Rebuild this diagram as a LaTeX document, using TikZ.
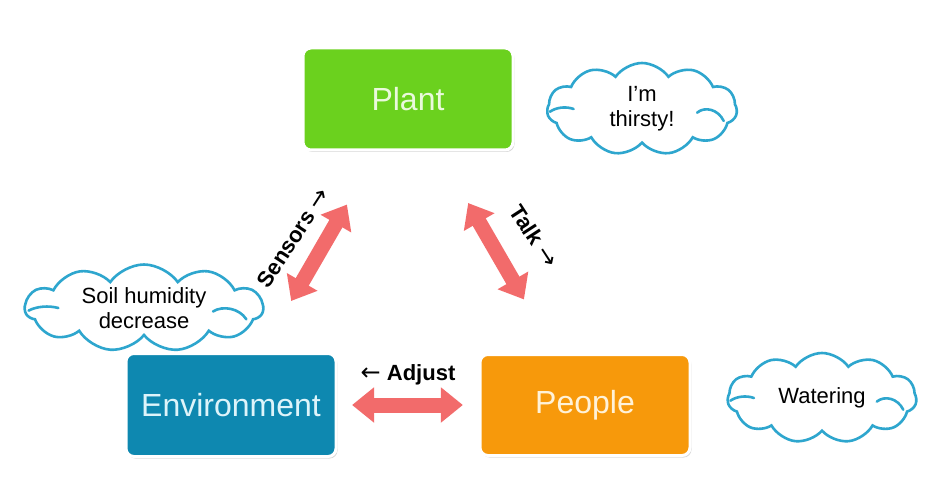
\documentclass[tikz,border=0pt]{standalone}
\usepackage{fontspec}
\setmainfont{Liberation Sans}
\newfontfamily\arrowfont{DejaVu Sans}
\usetikzlibrary{shapes.symbols,shadows,arrows.meta,calc}
\definecolor{plantc}{HTML}{6BD11E}
\definecolor{envc}{HTML}{0E88B0}
\definecolor{peoplec}{HTML}{F7990B}
\definecolor{arrc}{HTML}{F26B6B}
\definecolor{cloudc}{HTML}{2EA6CE}
\definecolor{planttxt}{HTML}{EAF9DC}
\definecolor{envtxt}{HTML}{DDF4FA}
\definecolor{peopletxt}{HTML}{FFF2D8}
\newcommand{\cloudcurls}[3]{%
  \begin{scope}[shift={(#1.center)}, x=#2pt, y=-#3pt, draw=cloudc, line width=2.6pt, line cap=round]
    \draw (-0.485,0.03) .. controls (-0.45,-0.02) and (-0.40,-0.03) .. (-0.36,0.0);
    \draw (0.29,0.04) .. controls (0.33,-0.03) and (0.40,0.0) .. (0.43,0.13);
  \end{scope}}
\begin{document}
\begin{tikzpicture}[x=1pt,y=-1pt,
  box/.style={rectangle, rounded corners=8pt, minimum width=210pt, minimum height=102pt,
    draw=white, line width=3pt, inner sep=0pt,
    drop shadow={shadow xshift=1.5pt, shadow yshift=-2pt, opacity=0.3},
    font=\fontsize{32}{36}\selectfont},
  thought/.style={cloud, cloud puffs=11, cloud puff arc=110, cloud ignores aspect,
    draw=cloudc, line width=2.6pt, fill=white, inner sep=0pt},
  cloudtext/.style={align=center, font=\fontsize{22}{25}\selectfont},
  link/.style={draw=arrc, line width=15pt,
    {Triangle[width=34pt,length=22pt]}-{Triangle[width=34pt,length=22pt]}},
  lab/.style={font=\bfseries\fontsize{22}{25}\selectfont, inner sep=0pt}
]
\useasboundingbox[fill=white] (0,0) rectangle (949,478);

\node[box, fill=plantc, text=planttxt] (plant) at (408,99) {Plant};
\node[box, fill=envc, text=envtxt, minimum height=103pt] (env) at (231,405) {Environment};
\node[box, fill=peoplec, text=peopletxt, minimum height=101pt] (people) at (585,405) {People};

\node[thought, minimum width=190pt, minimum height=92pt] (thirsty) at (642,109) {};
\cloudcurls{thirsty}{190}{92}
\node[cloudtext] (thirstytxt) at (thirsty.center) {I’m\\thirsty!};
\node[thought, minimum width=238pt, minimum height=87pt] (soil) at (144,308) {};
\cloudcurls{soil}{238}{87}
\node[cloudtext] (soiltxt) at (soil.center) {Soil humidity\\decrease};
\node[thought, minimum width=189pt, minimum height=90pt] (water) at (822,398) {};
\cloudcurls{water}{189}{90}
\node[cloudtext] (watertxt) at (water.center) {Watering};

\draw[link] ($(env)!0.34!(plant)$) -- ($(env)!0.655!(plant)$);
\draw[link] ($(plant)!0.34!(people)$) -- ($(plant)!0.655!(people)$);
\draw[link] ($(env)!0.342!(people)$) -- ($(env)!0.655!(people)$);

\node[lab, rotate=57] (lsens) at (293,238) {Sensors {\mdseries\arrowfont\fontsize{24}{26}\selectfont →}};
\node[lab, rotate=-57] (ltalk) at (534,236) {Talk {\mdseries\arrowfont\fontsize{24}{26}\selectfont →}};
\node[lab] (ladj) at (408,375) {{\mdseries\arrowfont\fontsize{24}{26}\selectfont ←} Adjust};
\end{tikzpicture}
\end{document}
